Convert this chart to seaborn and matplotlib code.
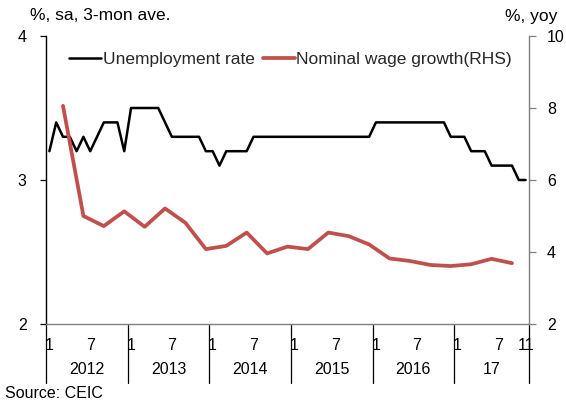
import numpy as np
import pandas as pd
import matplotlib
matplotlib.use("Agg")
import matplotlib.pyplot as plt
import seaborn as sns
from matplotlib.transforms import blended_transform_factory
from matplotlib.lines import Line2D

# ---------------- data ----------------
months = pd.period_range("2012-01", "2017-11", freq="M")
unemployment = [3.2, 3.4, 3.3, 3.3, 3.2, 3.3, 3.2, 3.3, 3.4, 3.4, 3.4, 3.2,
                3.5, 3.5, 3.5, 3.5, 3.5, 3.4, 3.3, 3.3, 3.3, 3.3, 3.3, 3.2,
                3.2, 3.1, 3.2, 3.2, 3.2, 3.2, 3.3, 3.3, 3.3, 3.3, 3.3, 3.3,
                3.3, 3.3, 3.3, 3.3, 3.3, 3.3, 3.3, 3.3, 3.3, 3.3, 3.3, 3.3,
                3.4, 3.4, 3.4, 3.4, 3.4, 3.4, 3.4, 3.4, 3.4, 3.4, 3.4, 3.3,
                3.3, 3.3, 3.2, 3.2, 3.2, 3.1, 3.1, 3.1, 3.1, 3.0, 3.0]
wage_quarters = pd.period_range("2012Q1", "2017Q3", freq="Q")
wage_growth = [8.06, 5.00, 4.72, 5.13, 4.70, 5.21, 4.81, 4.08, 4.17, 4.54, 3.96,
               4.15, 4.08, 4.54, 4.44, 4.21, 3.82, 3.75, 3.64, 3.61, 3.66, 3.81, 3.69]
years = ["2012", "2013", "2014", "2015", "2016", "17"]
left_ticks = [2, 3, 4]
right_ticks = [2, 4, 6, 8, 10]

month_pos = {p: i for i, p in enumerate(months)}
df_u = pd.DataFrame({"x": np.arange(len(months)), "value": unemployment})
df_w = pd.DataFrame({"x": [month_pos[q.asfreq("M", "end")] for q in wage_quarters],
                     "value": wage_growth})

# ---------------- style ----------------
sns.set_theme(style="white")
plt.rcParams["font.family"] = ["Liberation Sans", "DejaVu Sans"]
FS = 11.5
FS_BIG = 12.5
RED = "#C0504D"

fig = plt.figure(figsize=(5.66, 4.0), dpi=100)
ax = fig.add_axes([46 / 566, 1 - 324 / 400, (529 - 46) / 566, (324 - 36) / 400])
ax2 = ax.twinx()

sns.lineplot(data=df_u, x="x", y="value", ax=ax, color="black", linewidth=1.8)
sns.lineplot(data=df_w, x="x", y="value", ax=ax2, color=RED, linewidth=2.7)

ax.set_xlim(-0.5, len(months) - 0.5)
ax.set_ylim(2, 4)
ax2.set_ylim(2, 10)
ax.set_yticks(left_ticks)
ax.set_yticklabels([str(t) for t in left_ticks])
ax2.set_yticks(right_ticks)
ax2.set_yticklabels([str(t) for t in right_ticks])
for a in (ax, ax2):
    a.set_xlabel("")
    a.set_ylabel("")
    a.grid(False)

# x tick labels: month numbers
xt = [i for i, p in enumerate(months) if p.month in (1, 7)] + [len(months) - 1]
ax.set_xticks(xt)
ax.set_xticklabels([str(months[i].month) for i in xt])
ax.tick_params(axis="x", length=0, pad=10, labelsize=FS, colors="black")
ax.tick_params(axis="y", direction="out", length=4, width=0.9, pad=10,
               labelsize=FS, left=True, color="black", labelcolor="black")
ax2.tick_params(axis="y", direction="out", length=5, width=0.9, pad=8,
                labelsize=FS, right=True, color="#808080", labelcolor="black")

ax.spines["top"].set_visible(False)
ax2.spines["top"].set_visible(False)
ax.spines["left"].set_color("black")
ax.spines["left"].set_linewidth(1.0)
ax.spines["bottom"].set_color("#808080")
ax.spines["bottom"].set_linewidth(1.0)
ax.spines["right"].set_visible(False)
ax2.spines["left"].set_visible(False)
ax2.spines["bottom"].set_visible(False)
ax2.spines["right"].set_color("#808080")
ax2.spines["right"].set_linewidth(1.0)

# year separators and labels
trans = blended_transform_factory(ax.transData, fig.transFigure)
year_starts = [i for i, p in enumerate(months) if p.month == 1]
bounds = [s - 0.5 for s in year_starts] + [len(months) - 0.5]
for b in bounds:
    ax.plot([b, b], [1 - 325 / 400, 1 - 383 / 400], transform=trans,
            color="black", linewidth=0.9, clip_on=False)
for k, y in enumerate(years):
    ax.text((bounds[k] + bounds[k + 1]) / 2, 1 - 370 / 400, y, transform=trans,
            ha="center", va="center", fontsize=FS, color="black")

# axis titles
fig.text(30 / 566, 1 - 16 / 400, "%, sa, 3-mon ave.", ha="left", va="center",
         fontsize=FS_BIG, color="black")
fig.text(557 / 566, 1 - 16 / 400, "%, yoy", ha="right", va="center",
         fontsize=FS_BIG, color="black")
fig.text(5 / 566, 1 - 394 / 400, "Source: CEIC", ha="left", va="center",
         fontsize=FS, color="black")

# legend
handles = [Line2D([], [], color="black", linewidth=1.8),
           Line2D([], [], color=RED, linewidth=2.7)]
fig.legend(handles, ["Unemployment rate", "Nominal wage growth(RHS)"],
           loc="center left", bbox_to_anchor=(69 / 566, 1 - 59 / 400),
           ncol=2, frameon=False, fontsize=FS_BIG, handlelength=1.85,
           handletextpad=0.1, columnspacing=0.45, borderpad=0, borderaxespad=0)

fig.savefig("out.png", dpi=100)
